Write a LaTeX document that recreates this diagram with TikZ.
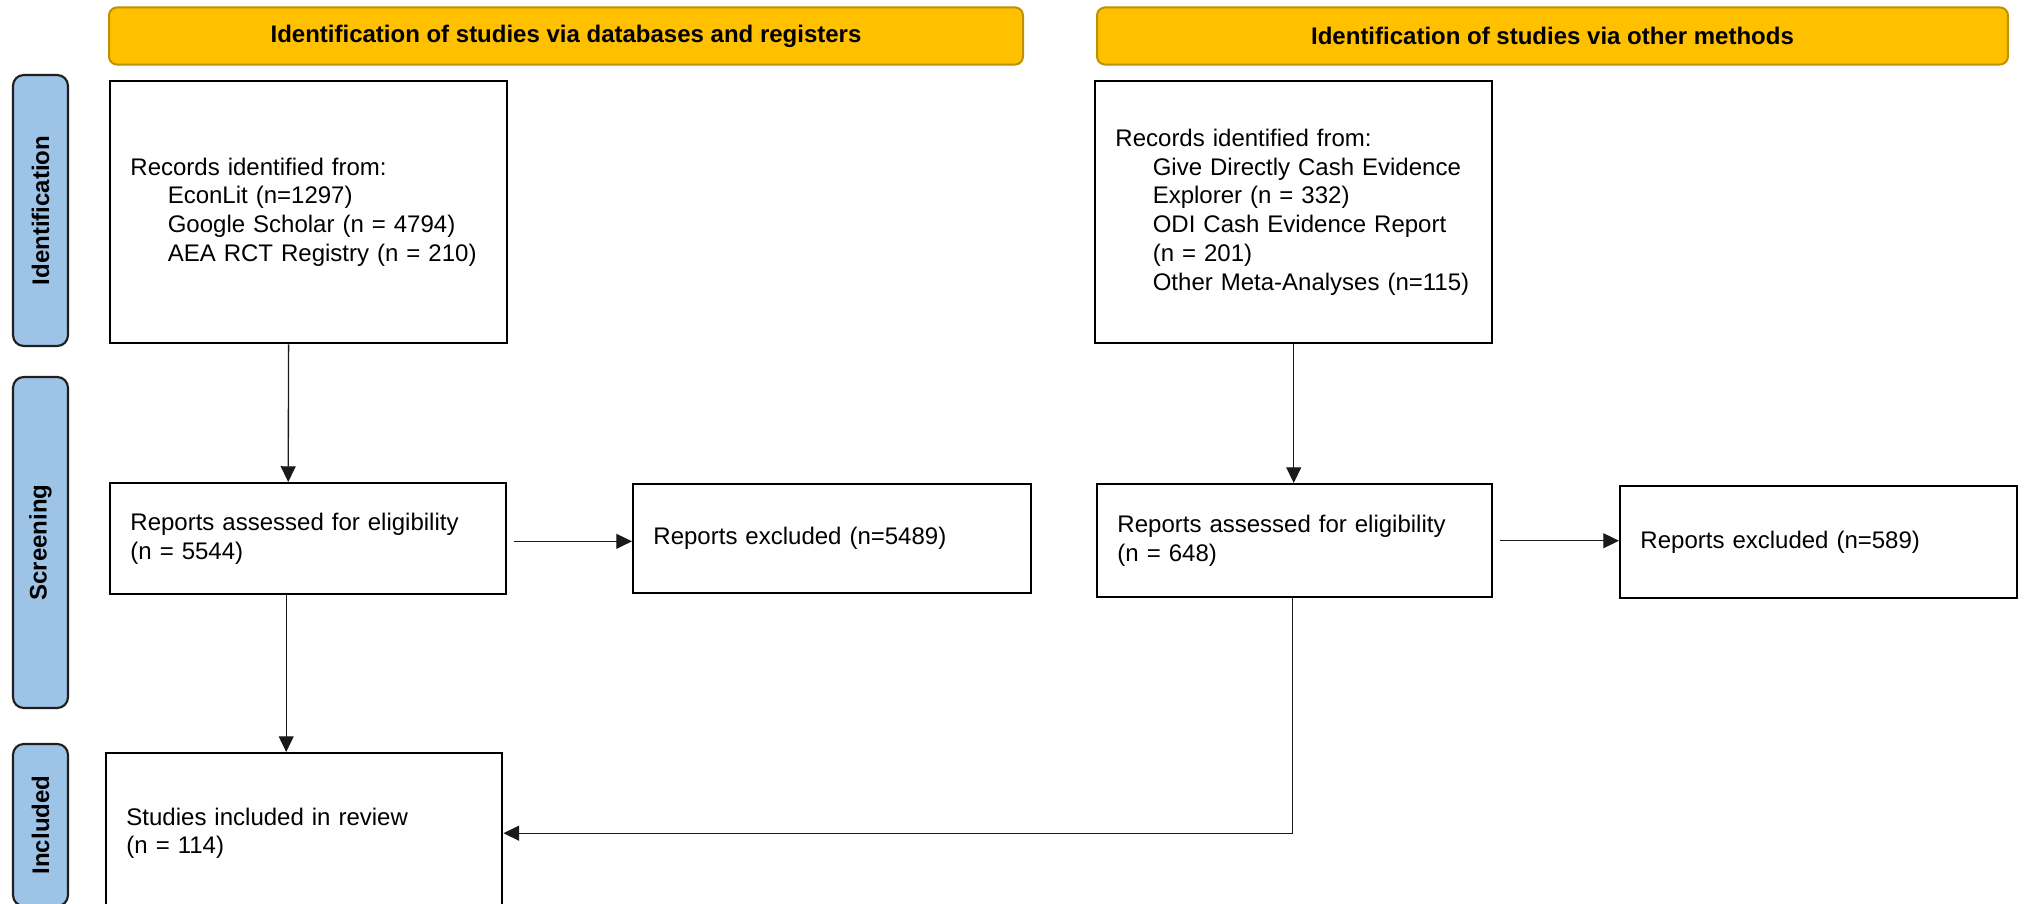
\documentclass[tikz,border=0pt]{standalone}
\usepackage{fontspec}
\setmainfont{Liberation Sans}
\usetikzlibrary{arrows.meta}
\definecolor{hdrfill}{HTML}{FFC000}
\definecolor{hdrdraw}{HTML}{BF9000}
\definecolor{pillfill}{HTML}{9DC3E6}
\definecolor{pilldraw}{HTML}{1F1F1F}
\definecolor{arrcol}{HTML}{1A1A1A}
\newcommand{\ind}{\hspace*{14pt}}
\begin{document}
\begin{tikzpicture}[x=0.375pt,y=-0.375pt,
  every node/.style={font=\fontsize{9}{10.8}\selectfont},
  hdr/.style={draw=hdrdraw, fill=hdrfill, line width=0.75pt, rounded corners=3pt,
    font=\fontsize{9}{10.8}\selectfont\bfseries, inner sep=0pt, minimum height=21.4pt},
  pill/.style={draw=pilldraw, fill=pillfill, line width=0.8pt, rounded corners=4pt,
    rotate=90, inner sep=0pt, minimum height=20.6pt, font=\fontsize{9}{10.8}\selectfont\bfseries},
  bx/.style={draw=black, line width=0.9pt, align=left, inner xsep=7.6pt, inner ysep=0pt,
    anchor=north west, fill=white},
  arr/.style={draw=arrcol, line width=0.5pt, -{Triangle[length=5.9pt,width=5.6pt]}}
]
\clip (0,0) rectangle (2026,904);
\fill[white] (0,0) rectangle (2026,904);

% headers
\node[hdr, minimum width=342.75pt] (h1) at (566,36) {Identification of studies via databases and registers};
\node[hdr, minimum width=341.6pt] (h2) at (1552.5,36) {Identification of studies via other methods};

% side pills
\node[pill, minimum width=101.6pt] (p1) at (40.5,210.5) {Identification};
\node[pill, minimum width=124.1pt] (p2) at (40.5,542.5) {Screening};
\node[pill, minimum width=60.75pt] (p3) at (40.5,825) {Included};

% boxes
\node[bx, text width=133.6pt, minimum height=98.25pt] (A) at (109,80)
  {Records identified from:\\\ind EconLit (n=1297)\\\ind Google Scholar (n = 4794)\\\ind AEA RCT Registry (n = 210)};
\node[bx, text width=133.7pt, minimum height=98.25pt] (B) at (1094,80)
  {Records identified from:\\\ind Give Directly Cash Evidence\\\ind Explorer (n = 332)\\\ind ODI Cash Evidence Report\\\ind (n = 201)\\\ind Other Meta-Analyses (n=115)};
\node[bx, text width=133.3pt, minimum height=41.6pt] (C) at (109,482)
  {Reports assessed for eligibility\\(n = 5544)};
\node[bx, text width=134pt, minimum height=40.9pt] (D) at (632,483)
  {Reports excluded (n=5489)};
\node[bx, text width=132.9pt, minimum height=42.4pt] (E) at (1096,483)
  {Reports assessed for eligibility\\(n = 648)};
\node[bx, text width=133.7pt, minimum height=42pt] (F) at (1619,485)
  {Reports excluded (n=589)};
\node[bx, text width=133.3pt, minimum height=60pt] (G) at (105,752)
  {Studies included in review\\(n = 114)};

% connectors
\draw[arr] ([xshift=-7.5pt]A.south) -- ([xshift=-7.5pt]C.north);
\draw[arr] ([xshift=-8.25pt]C.south) -- ([xshift=-8.25pt]C.south |- G.north);
\draw[arr, shorten <=2.4pt] ([yshift=-1pt]C.east) -- ([yshift=-1pt]C.east -| D.west);
\draw[arr] (B.south) -- (B.south |- E.north);
\draw[arr, shorten <=2.6pt] (E.east) -- (E.east -| F.west);
\draw[arr] ([xshift=-0.9pt]E.south) |- (G.east);
\end{tikzpicture}
\end{document}
